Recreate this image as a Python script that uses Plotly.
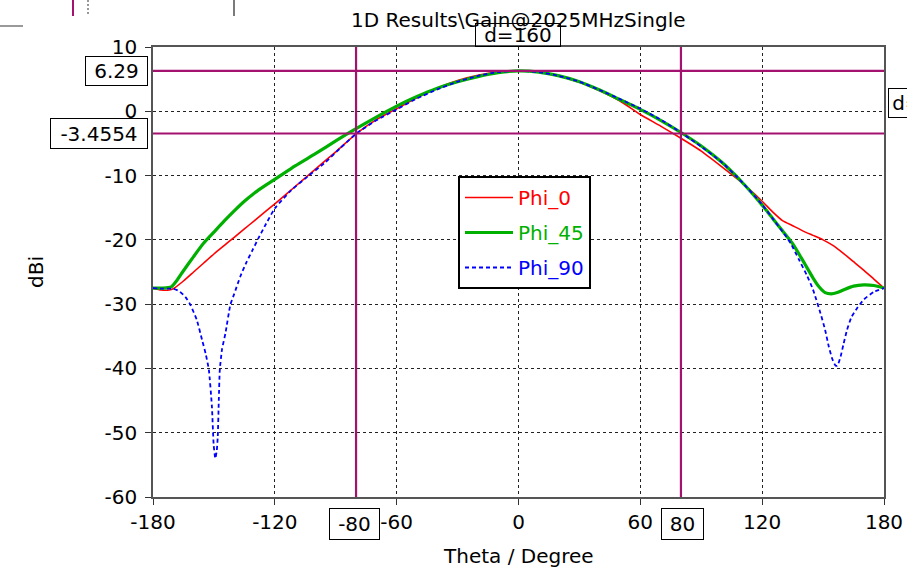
import plotly.graph_objects as go

# ---------------- data ----------------
theta_phi0 = [-180, -176, -172, -170, -165, -160, -155, -150, -145, -140, -135, -130, -125, -120,
              -110, -100, -90, -80, -70, -60, -50, -40, -30, -20, -10, 0, 10, 20, 30, 40, 50, 60,
              70, 80, 90, 100, 110, 120, 125, 130, 135, 140, 145, 150, 155, 160, 165, 170, 175, 180]
gain_phi0 = [-27.5, -27.8, -27.8, -27.6, -26.4, -25.0, -23.6, -22.2, -20.9, -19.6, -18.3, -17.0, -15.7, -14.4,
             -11.7, -9.0, -6.3, -3.5, -1.3, 0.4, 2.1, 3.6, 4.8, 5.6, 6.1, 6.29, 6.1, 5.5, 4.5, 3.2, 1.6, -0.5,
             -2.3, -4.2, -6.2, -8.6, -11.1, -14.0, -15.6, -17.0, -17.8, -18.6, -19.3, -20.0, -20.9, -22.1,
             -23.4, -24.7, -26.1, -27.5]

theta_phi45 = [-180, -175, -171, -168, -165, -160, -155, -150, -145, -140, -135, -130, -125, -120,
               -110, -100, -90, -80, -70, -60, -50, -40, -30, -20, -10, 0, 10, 20, 30, 40, 50, 60,
               70, 80, 90, 100, 110, 120, 125, 130, 135, 140, 145, 148, 151, 154, 157, 160, 165,
               170, 175, 180]
gain_phi45 = [-27.5, -27.5, -27.3, -26.2, -24.8, -22.6, -20.5, -18.8, -17.1, -15.5, -14.0, -12.7, -11.6, -10.6,
              -8.5, -6.6, -4.6, -2.7, -0.9, 0.8, 2.3, 3.6, 4.6, 5.4, 6.0, 6.29, 6.1, 5.5, 4.6, 3.3, 1.8, 0.3,
              -1.4, -3.3, -5.4, -7.9, -11.0, -14.6, -16.6, -18.6, -20.6, -23.2, -25.9, -27.3, -28.2, -28.4,
              -28.2, -27.8, -27.2, -27.0, -27.1, -27.5]

theta_phi90 = [-180, -175, -170, -167, -164, -161.6, -158.5, -155.8, -154, -152.5, -151, -150.1, -149.3,
               -148.6, -148.1, -147.6, -147.1, -146, -144.3, -141.9, -140, -137, -134, -131, -128, -125,
               -120, -112, -104, -95, -88, -80, -70, -60, -50, -40, -30, -20, -10, 0, 10, 20, 30, 40, 50,
               60, 70, 80, 90, 100, 110, 120, 125, 130, 134, 138, 142, 145, 148.7, 151, 152.8, 154.5, 156,
               157, 158.6, 160, 161.8, 164, 166.8, 170, 175, 180]
gain_phi90 = [-27.5, -27.6, -27.6, -28.0, -28.9, -30.1, -32.4, -35.6, -37.8, -40.2, -45.9, -52.0, -54.0,
              -52.8, -50.6, -45.0, -40.2, -37.0, -34.5, -30.1, -28.4, -25.7, -23.5, -21.6, -19.7, -17.9,
              -15.1, -12.3, -10.2, -7.9, -5.8, -3.5, -1.4, 0.3, 2.0, 3.4, 4.6, 5.5, 6.1, 6.29, 6.1, 5.5, 4.6,
              3.3, 1.9, 0.4, -1.3, -3.3, -5.5, -7.9, -11.0, -14.5, -16.6, -18.7, -20.5, -23.0, -25.5, -27.7,
              -31.4, -34.0, -36.6, -38.5, -39.5, -39.6, -38.2, -36.3, -34.0, -32.0, -30.6, -29.3, -28.1, -27.5]

x_ticks = [-180, -120, -60, 0, 60, 120, 180]
y_ticks = [10, 0, -10, -20, -30, -40, -50, -60]
marker_theta = [-80, 80]
marker_gain = [6.29, -3.4554]
marker_gain_labels = ["6.29", "-3.4554"]
marker_theta_labels = ["-80", "80"]

# ---------------- layout helpers ----------------
W, H = 907, 570
L, R, T, B = 153, 23, 47, 73
PW, PH = W - L - R, H - T - B


def px(xp):
    return (xp - L) / PW


def py(yp):
    return (H - B - yp) / PH


FONT = "DejaVu Sans"
FS = 20
MAG = "#A3126F"

fig = go.Figure()
fig.add_trace(go.Scatter(x=theta_phi0, y=gain_phi0, mode="lines",
                         name="<span style='color:#FF0000'>Phi_0</span>", legendgroup="a",
                         line=dict(color="#FF0000", width=1.6, shape="spline", smoothing=0.5)))
fig.add_trace(go.Scatter(x=theta_phi45, y=gain_phi45, mode="lines",
                         name="<span style='color:#00B000'>Phi_45</span>", legendgroup="b",
                         line=dict(color="#00B000", width=3.2, shape="spline", smoothing=0.6)))
fig.add_trace(go.Scatter(x=theta_phi90, y=gain_phi90, mode="lines",
                         name="<span style='color:#0000FF'>Phi_90</span>", legendgroup="c",
                         line=dict(color="#0000FF", width=1.8, dash="4px,3px", shape="spline", smoothing=0.5)))

shapes = []
for g in marker_gain:
    shapes.append(dict(type="line", xref="paper", yref="y", x0=0, x1=1, y0=g, y1=g,
                       line=dict(color=MAG, width=2.2), layer="above"))
for t in marker_theta:
    shapes.append(dict(type="line", xref="x", yref="paper", x0=t, x1=t, y0=0, y1=1,
                       line=dict(color=MAG, width=2.2), layer="above"))
# stray fragments at the top-left of the screenshot
shapes.append(dict(type="line", xref="paper", yref="paper", x0=px(73), x1=px(73), y0=py(0), y1=py(16),
                   line=dict(color=MAG, width=2)))
shapes.append(dict(type="line", xref="paper", yref="paper", x0=px(88), x1=px(88), y0=py(0), y1=py(16),
                   line=dict(color="#333", width=1, dash="2px,2px")))
shapes.append(dict(type="line", xref="paper", yref="paper", x0=px(234), x1=px(234), y0=py(0), y1=py(16),
                   line=dict(color="#222", width=1.2)))
shapes.append(dict(type="line", xref="paper", yref="paper", x0=px(0), x1=px(23), y0=py(26), y1=py(26),
                   line=dict(color="#555", width=1.2)))

annotations = []
tf = dict(family=FONT, size=FS, color="#000")
box = dict(bordercolor="#000", borderwidth=1, showarrow=False, font=tf, borderpad=0,
           bgcolor="#FFFFFF", align="center", valign="middle")
# marker value boxes on the y axis
annotations.append(dict(box, text=marker_gain_labels[0], xref="paper", yref="y", x=px(148), y=marker_gain[0],
                        xanchor="right", yanchor="middle", width=61, height=28))
annotations.append(dict(box, text=marker_gain_labels[1], xref="paper", yref="y", x=px(148), y=marker_gain[1],
                        xanchor="right", yanchor="middle", width=96, height=29))
# marker value boxes on the x axis
annotations.append(dict(box, text=marker_theta_labels[0], xref="paper", yref="paper", x=px(354), y=py(524),
                        xanchor="center", yanchor="middle", width=49, height=30))
annotations.append(dict(box, text=marker_theta_labels[1], xref="paper", yref="paper", x=px(682.5), y=py(524),
                        xanchor="center", yanchor="middle", width=41, height=30))
annotations.append(dict(text="1D Results\\Gain@2025MHzSingle", xref="paper", yref="paper",
                        x=px(518), y=py(20), xanchor="center", yanchor="middle", showarrow=False, font=tf))
annotations.append(dict(box, text="d=160", xref="paper", yref="paper", x=px(518), y=py(34.5),
                        xanchor="center", yanchor="middle", width=84, height=22, bgcolor="rgba(0,0,0,0)"))
annotations.append(dict(box, text="d=160", xref="paper", yref="paper", x=px(888), y=py(103),
                        xanchor="left", yanchor="middle", width=74, height=28, align="center"))
annotations.append(dict(text="dBi", xref="paper", yref="paper", x=px(36), y=py(272), textangle=-90,
                        xanchor="center", yanchor="middle", showarrow=False, font=tf))
annotations.append(dict(text="Theta / Degree", xref="paper", yref="paper", x=px(518), y=py(556),
                        xanchor="center", yanchor="middle", showarrow=False, font=tf))

axis_common = dict(showline=True, linecolor="#555", linewidth=1.5, mirror=True,
                   ticks="outside", ticklen=6, tickcolor="#333", tickwidth=1,
                   showgrid=True, gridcolor="#222", gridwidth=1, griddash="3px,3px",
                   zeroline=False, tickfont=tf)

fig.update_layout(
    width=W, height=H, margin=dict(l=L, r=R, t=T, b=B, autoexpand=False),
    paper_bgcolor="#FFFFFF", plot_bgcolor="#FFFFFF",
    xaxis=dict(axis_common, range=[-180, 180], tickvals=x_ticks, ticktext=[str(v) for v in x_ticks]),
    yaxis=dict(axis_common, range=[-60, 10], tickvals=y_ticks, ticktext=[str(v) for v in y_ticks],
               ticklabelstandoff=4),
    showlegend=True,
    legend=dict(x=px(458), y=py(176), xanchor="left", yanchor="top",
                bgcolor="#FFFFFF", bordercolor="#000", borderwidth=2,
                font=dict(family=FONT, size=FS), tracegroupgap=6, itemwidth=48),
    shapes=shapes, annotations=annotations,
)

fig.write_html("out.html")
